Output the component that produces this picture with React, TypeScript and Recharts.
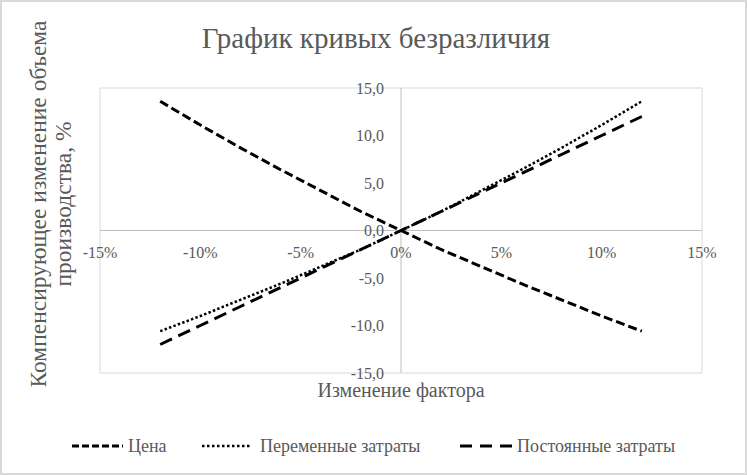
import React from 'react';
import { LineChart, Line, XAxis, YAxis, CartesianGrid, ReferenceLine, ReferenceDot } from 'recharts';

const factorChange = [-12, -10, -8, -6, -4, -2, 0, 2, 4, 6, 8, 10, 12];
const priceSeries = [13.6, 11.1, 8.7, 6.4, 4.2, 2.0, 0, -2.0, -3.8, -5.6, -7.3, -9.0, -10.6];
const variableCostSeries = [-10.6, -9.0, -7.3, -5.6, -3.8, -2.0, 0, 2.0, 4.2, 6.4, 8.7, 11.1, 13.6];
const fixedCostSeries = [-12, -10, -8, -6, -4, -2, 0, 2, 4, 6, 8, 10, 12];
const xTicks = [-15, -10, -5, 0, 5, 10, 15];
const yTicks = [-15, -10, -5, 0, 5, 10, 15];
const seriesNames = ['Цена', 'Переменные затраты', 'Постоянные затраты'];
const titleText = 'График кривых безразличия';
const xTitle = 'Изменение фактора';
const yTitleLines = ['Компенсирующее изменение объема', 'производства, %'];

const rows = factorChange.map((x, i) => ({
  x,
  price: priceSeries[i],
  variable: variableCostSeries[i],
  fixed: fixedCostSeries[i],
}));

const FONT = '"Liberation Serif", "Times New Roman", serif';
const TEXT = '#595959';
const fmtY = (v: number) => v.toFixed(1).replace('.', ',');
const fmtX = (v: number) => `${v}%`;

const styles = [
  { key: 'price', dash: '9 4', width: 3 },
  { key: 'variable', dash: '2.5 2.2', width: 2.5 },
  { key: 'fixed', dash: '13 7', width: 3 },
];

const legendLayout = [
  { x1: 72, x2: 123, tx: 128, dash: '7 3', w: 3 },
  { x1: 202, x2: 250, tx: 260, dash: '2.5 2.5', w: 2.5 },
  { x1: 460, x2: 512, tx: 517, dash: '12 8', w: 3 },
];

export default function App() {
  return (
    <div
      style={{
        position: 'fixed',
        left: 0,
        top: 0,
        width: 747,
        height: 475,
        background: '#fff',
        fontFamily: FONT,
      }}
    >
      <style>{`.recharts-wrapper text, .recharts-wrapper tspan { font-family: "Liberation Serif", "Times New Roman", serif !important; }`}</style>
      <LineChart
        width={747}
        height={475}
        data={rows}
        margin={{ top: 88, right: 45, bottom: 102, left: 100 }}
      >
        <CartesianGrid stroke="#d9d9d9" strokeWidth={1} />
        <XAxis
          dataKey="x"
          type="number"
          domain={[-15, 15]}
          ticks={xTicks}
          axisLine={false}
          tickLine={false}
          tick={false}
          height={0}
          allowDataOverflow
        />
        <YAxis
          type="number"
          domain={[-15, 15]}
          ticks={yTicks}
          axisLine={false}
          tickLine={false}
          tick={false}
          width={0}
          allowDataOverflow
        />
        <ReferenceLine x={0} stroke="#bfbfbf" strokeWidth={1} />
        <ReferenceLine y={0} stroke="#bfbfbf" strokeWidth={1} />
        {xTicks.map((v) => (
          <ReferenceDot
            key={'xl' + v}
            x={v}
            y={0}
            r={0}
            fill="none"
            stroke="none"
            ifOverflow="visible"
            label={{ value: fmtX(v), position: 'bottom', offset: 16, fill: TEXT, fontSize: 16 }}
          />
        ))}
        {yTicks.map((v) => (
          <ReferenceDot
            key={'yl' + v}
            x={0}
            y={v}
            r={0}
            fill="none"
            stroke="none"
            ifOverflow="visible"
            label={{ value: fmtY(v), position: 'left', offset: 17, fill: TEXT, fontSize: 16 }}
          />
        ))}
        {styles.map((s, i) => (
          <Line
            key={s.key}
            name={seriesNames[i]}
            dataKey={s.key}
            type="linear"
            stroke="#000"
            strokeWidth={s.width}
            strokeDasharray={s.dash}
            dot={false}
            activeDot={false}
            isAnimationActive={false}
          />
        ))}
      </LineChart>
      <svg
        width={747}
        height={475}
        style={{ position: 'absolute', left: 0, top: 0, pointerEvents: 'none' }}
      >
        <rect x={1} y={1} width={745} height={473} fill="none" stroke="#d9d9d9" strokeWidth={2} />
        <text x={376} y={48} textAnchor="middle" fontSize={29} fill={TEXT} fontFamily={FONT}>
          {titleText}
        </text>
        <text x={401} y={397} textAnchor="middle" fontSize={20} fill={TEXT} fontFamily={FONT}>
          {xTitle}
        </text>
        {yTitleLines.map((line, i) => (
          <text
            key={i}
            transform={`translate(${46 + i * 25}, 204) rotate(-90)`}
            textAnchor="middle"
            fontSize={23.5}
            fill={TEXT}
            fontFamily={FONT}
          >
            {line}
          </text>
        ))}
        {legendLayout.map((l, i) => (
          <g key={i}>
            <line x1={l.x1} x2={l.x2} y1={446} y2={446} stroke="#000" strokeWidth={l.w} strokeDasharray={l.dash} />
            <text x={l.tx} y={452} fontSize={18} fill={TEXT} fontFamily={FONT}>
              {seriesNames[i]}
            </text>
          </g>
        ))}
      </svg>
    </div>
  );
}
